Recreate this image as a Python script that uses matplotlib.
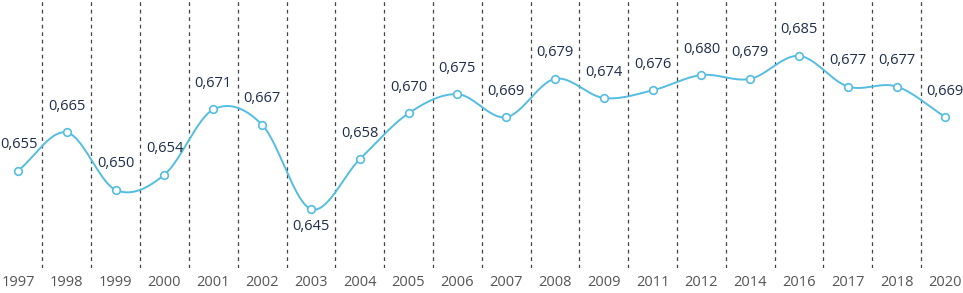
import numpy as np
import matplotlib.pyplot as plt

years = ['1997', '1998', '1999', '2000', '2001', '2002', '2003', '2004', '2005', '2006',
         '2007', '2008', '2009', '2011', '2012', '2014', '2016', '2017', '2018', '2020']
values = [0.655, 0.665, 0.650, 0.654, 0.671, 0.667, 0.645, 0.658, 0.670, 0.675,
          0.669, 0.679, 0.674, 0.676, 0.680, 0.679, 0.685, 0.677, 0.677, 0.669]


def catmull_rom(x, y, n=30):
    # smooth curve through the points, like the spreadsheet "smoothed line"
    x = np.asarray(x, float)
    y = np.asarray(y, float)
    px = np.concatenate([[2 * x[0] - x[1]], x, [2 * x[-1] - x[-2]]])
    py = np.concatenate([[2 * y[0] - y[1]], y, [2 * y[-1] - y[-2]]])
    xs, ys = [], []
    t = np.linspace(0, 1, n)
    for i in range(1, len(px) - 2):
        for p, out in ((px, xs), (py, ys)):
            p0, p1, p2, p3 = p[i - 1], p[i], p[i + 1], p[i + 2]
            out.append(0.5 * (2 * p1 + (-p0 + p2) * t
                              + (2 * p0 - 5 * p1 + 4 * p2 - p3) * t ** 2
                              + (-p0 + 3 * p1 - 3 * p2 + p3) * t ** 3))
    return np.concatenate(xs), np.concatenate(ys)


plt.rcParams['font.family'] = ['Open Sans', 'DejaVu Sans']

fig = plt.figure(figsize=(9.63, 2.93), dpi=100)
ax = fig.add_axes([0, 25 / 293, 1, 268 / 293])

x = np.arange(len(years))
line_color = '#55bde0'

sx, sy = catmull_rom(x, values)
ax.plot(sx, sy, color=line_color, lw=1.4, zorder=3)
ax.plot(x, values, 'o', ms=5.5, mfc='white', mec=line_color, mew=1.2, zorder=4)

for xi in x[:-1]:
    ax.axvline(xi + 0.5, color='#444444', lw=0.9, ls=(0, (3, 3)), zorder=1)

for xi, v in zip(x, values):
    label = f'{v:.3f}'.replace('.', ',')
    dx = 1 if xi == 0 else (-1 if xi == len(x) - 1 else 0)
    dy = -17 if years[xi] == '2003' else 26
    ax.annotate(label, (xi, v), xytext=(dx, dy), textcoords='offset pixels',
                ha='center', va='center', fontsize=10.5, color='#1f2d4a')

ax.set_xlim(-0.37, 19.36)
ax.set_ylim(0.6296, 0.6996)
ax.set_xticks(x)
ax.set_xticklabels(years, fontsize=10.5, color='#555555')
ax.tick_params(axis='x', length=0, pad=5)
ax.set_yticks([])
for s in ax.spines.values():
    s.set_visible(False)

fig.savefig('out.png', dpi=100)
